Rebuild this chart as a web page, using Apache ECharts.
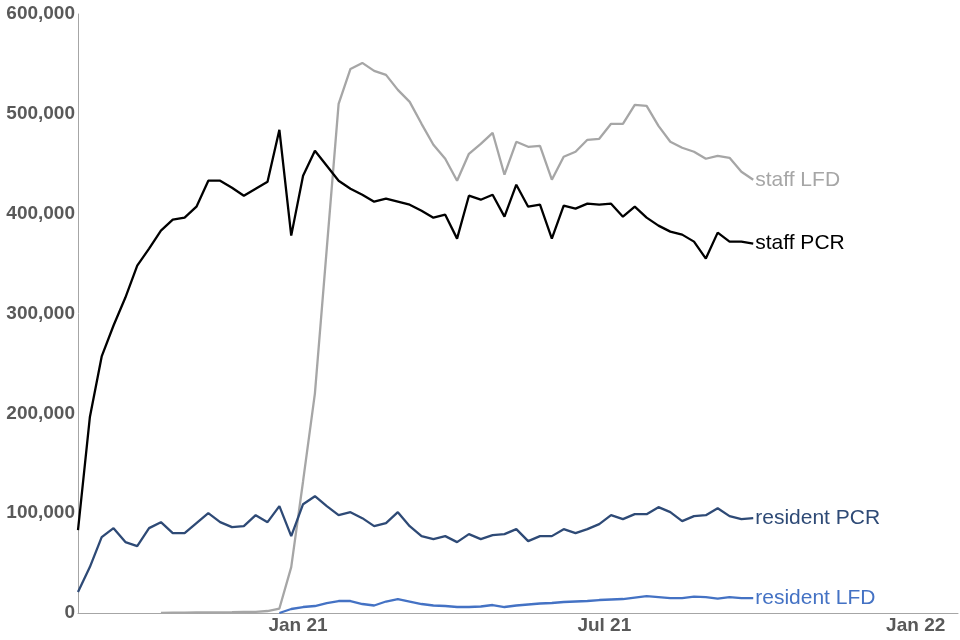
<!DOCTYPE html>
<html>
<head>
<meta charset="utf-8">
<title>Weekly tests in care homes</title>
<script src="https://cdn.jsdelivr.net/npm/echarts@6/dist/echarts.min.js"></script>
<style>
  html, body { margin: 0; padding: 0; background: #fff; }
  #chart { width: 960px; height: 640px; }
</style>
</head>
<body>
<div id="chart"></div>
<script>
// week starting dates
var weeks = [
  '2020-08-24', '2020-08-31', '2020-09-07', '2020-09-14', '2020-09-21', '2020-09-28',
  '2020-10-05', '2020-10-12', '2020-10-19', '2020-10-26', '2020-11-02', '2020-11-09',
  '2020-11-16', '2020-11-23', '2020-11-30', '2020-12-07', '2020-12-14', '2020-12-21',
  '2020-12-28', '2021-01-04', '2021-01-11', '2021-01-18', '2021-01-25', '2021-02-01',
  '2021-02-08', '2021-02-15', '2021-02-22', '2021-03-01', '2021-03-08', '2021-03-15',
  '2021-03-22', '2021-03-29', '2021-04-05', '2021-04-12', '2021-04-19', '2021-04-26',
  '2021-05-03', '2021-05-10', '2021-05-17', '2021-05-24', '2021-05-31', '2021-06-07',
  '2021-06-14', '2021-06-21', '2021-06-28', '2021-07-05', '2021-07-12', '2021-07-19',
  '2021-07-26', '2021-08-02', '2021-08-09', '2021-08-16', '2021-08-23', '2021-08-30',
  '2021-09-06', '2021-09-13', '2021-09-20', '2021-09-27'
];

var staffPCR = [
  83000, 196000, 257000, 288000, 316000, 348000, 365000, 383000, 394000, 396000,
  407000, 433000, 433000, 426000, 418000, 425000, 432000, 484000, 378000, 438000,
  463000, 448000, 433000, 425000, 419000, 412000, 415000, 412000, 409000, 403000,
  396000, 399000, 375000, 418000, 414000, 419000, 397000, 429000, 407000, 409000,
  375000, 408000, 405000, 410000, 409000, 410000, 397000, 407000, 396000, 388000,
  382000, 379000, 372000, 355000, 381000, 372000, 372000, 370000
];

var staffLFD = [
  null, null, null, null, null, null, null, 200, 300, 400,
  500, 600, 700, 800, 1000, 1200, 2000, 4500, 46000, 132000,
  220000, 365000, 510000, 545000, 551000, 543000, 539000, 524000, 512000, 490000,
  469000, 455000, 433000, 460000, 470000, 481000, 439000, 472000, 467000, 468000,
  434000, 457000, 462000, 474000, 475000, 490000, 490000, 509000, 508000, 488000,
  472000, 466000, 462000, 455000, 458000, 456000, 442000, 434000
];

var residentPCR = [
  21000, 46000, 76000, 85000, 71000, 67000, 85000, 91000, 80000, 80000,
  90000, 100000, 91000, 86000, 87000, 98000, 91000, 107000, 77000, 109000,
  117000, 107000, 98000, 101000, 95000, 87000, 90000, 101000, 87000, 77000,
  74000, 77000, 71000, 79000, 74000, 78000, 79000, 84000, 72000, 77000,
  77000, 84000, 80000, 84000, 89000, 98000, 94000, 99000, 99000, 106000,
  101000, 92000, 97000, 98000, 105000, 97000, 94000, 95000
];

var residentLFD = [
  null, null, null, null, null, null, null, null, null, null,
  null, null, null, null, null, null, null, 0, 4000, 6000,
  7000, 10000, 12000, 12000, 9000, 7500, 11500, 14000, 11500, 9000,
  7500, 7000, 6000, 6000, 6500, 8000, 6000, 7500, 8500, 9500,
  10000, 11000, 11500, 12000, 13000, 13500, 14000, 15500, 17000, 16000,
  15000, 15000, 16500, 16000, 14500, 16000, 15000, 15000
];

var seriesNames = ['staff LFD', 'staff PCR', 'resident PCR', 'resident LFD'];
var seriesColors = ['#a6a6a6', '#000000', '#2e4a76', '#4472c4'];
var seriesValues = [staffLFD, staffPCR, residentPCR, residentLFD];

var monthNames = ['Jan', 'Feb', 'Mar', 'Apr', 'May', 'Jun', 'Jul', 'Aug', 'Sep', 'Oct', 'Nov', 'Dec'];

function pairs(values) {
  return weeks.map(function (w, i) { return [w, values[i]]; });
}

var myChart = echarts.init(document.getElementById('chart'));
myChart.setOption({
  animation: false,
  textStyle: { fontFamily: 'Liberation Sans, Arial, sans-serif' },
  grid: { left: 78, right: 2, top: 14, bottom: 27, containLabel: false },
  xAxis: {
    type: 'time',
    min: '2020-08-24',
    max: '2022-01-26',
    axisLine: { lineStyle: { color: '#a6a6a6', width: 1 } },
    axisTick: { show: false },
    splitLine: { show: false },
    axisLabel: {
      margin: 3,
      color: '#595959',
      fontWeight: 'bold',
      fontSize: 19,
      formatter: function (value) {
        var d = new Date(value);
        if (d.getDate() === 1 && (d.getMonth() === 0 || d.getMonth() === 6)) {
          return monthNames[d.getMonth()] + ' ' + String(d.getFullYear()).slice(2);
        }
        return '';
      }
    }
  },
  yAxis: {
    type: 'value',
    min: 0,
    max: 600000,
    interval: 100000,
    axisLine: { show: true, lineStyle: { color: '#a6a6a6', width: 1 } },
    axisTick: { show: false },
    splitLine: { show: false },
    axisLabel: {
      margin: 3,
      color: '#595959',
      fontWeight: 'bold',
      fontSize: 19,
      formatter: function (v) {
        return String(v).replace(/\B(?=(\d{3})+(?!\d))/g, ',');
      }
    }
  },
  series: seriesNames.map(function (name, i) {
    return {
      name: name,
      type: 'line',
      data: pairs(seriesValues[i]),
      showSymbol: false,
      connectNulls: false,
      lineStyle: { color: seriesColors[i], width: 2.3 },
      itemStyle: { color: seriesColors[i] },
      endLabel: {
        show: true,
        formatter: '{a}',
        color: seriesColors[i],
        fontSize: 21,
        distance: 2
      }
    };
  })
});
</script>
</body>
</html>
